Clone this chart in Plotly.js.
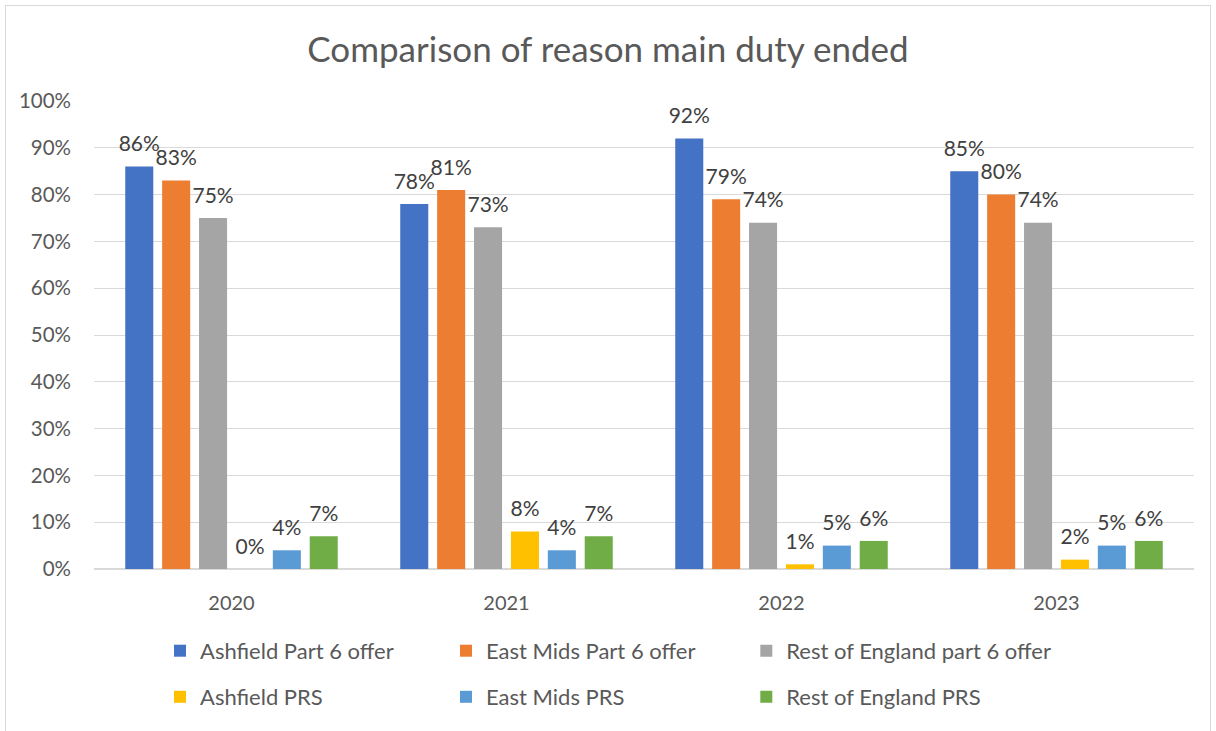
<!DOCTYPE html>
<html>
<head>
<meta charset="utf-8">
<script src="https://cdn.plot.ly/plotly-3.0.1.min.js"></script>
<style>
  body { margin: 0; background: #fff; }
  #graph { position: absolute; left: 0; top: 0; width: 1216px; height: 731px; }
  #frame { position: absolute; left: 5px; top: 5px; width: 1204px; height: 740px;
           border: 1px solid #d9d9d9; pointer-events: none; }
</style>
</head>
<body>
<div id="graph"></div>
<div id="frame"></div>
<script>
var years = ['2020', '2021', '2022', '2023'];

var ashfieldPart6 = [0.86, 0.78, 0.92, 0.85];
var eastMidsPart6 = [0.83, 0.81, 0.79, 0.80];
var restPart6 = [0.75, 0.73, 0.74, 0.74];
var ashfieldPRS = [0.00, 0.08, 0.01, 0.02];
var eastMidsPRS = [0.04, 0.04, 0.05, 0.05];
var restPRS = [0.07, 0.07, 0.06, 0.06];

var seriesNames = ['Ashfield Part 6 offer', 'East Mids Part 6 offer', 'Rest of England part 6 offer',
                   'Ashfield PRS', 'East Mids PRS', 'Rest of England PRS'];
var seriesValues = [ashfieldPart6, eastMidsPart6, restPart6, ashfieldPRS, eastMidsPRS, restPRS];
var seriesColors = ['#4472C4', '#ED7D31', '#A5A5A5', '#FFC000', '#5B9BD5', '#70AD47'];

var fontFam = 'Lato, "Open Sans", sans-serif';

// one legend per entry so each sits in its own column / row like the excel legend
var legendX = [0.06, 0.32, 0.593];
var legendY = [-0.175, -0.2735];

var data = [];
var layoutLegends = {};
for (let i = 0; i < seriesNames.length; i++) {
    var key = i == 0 ? 'legend' : 'legend' + (i + 1);
    data.push({
        type: 'bar',
        x: years,
        y: seriesValues[i],
        name: seriesNames[i],
        marker: {color: seriesColors[i]},
        // small textfont size keeps the blank second line short, it just lifts the label
        texttemplate: '<span style="font-size:21px">%{y:.0%}</span><br><span style="font-size:8px">\u00a0</span>',
        textposition: 'outside',
        constraintext: 'none',
        cliponaxis: false,
        textfont: {family: fontFam, size: 8, color: '#404040'},
        legend: key,
        hoverinfo: 'skip'
    });
    layoutLegends[key] = {
        orientation: 'h',
        xref: 'paper', yref: 'paper',
        x: legendX[i % 3], xanchor: 'left',
        y: legendY[Math.floor(i / 3)], yanchor: 'middle',
        font: {family: fontFam, size: 22, color: '#595959'},
        bgcolor: 'rgba(0,0,0,0)'
    };
}

var layout = {
    width: 1216,
    height: 731,
    margin: {l: 94, r: 22, t: 101, b: 162},
    paper_bgcolor: '#fff',
    plot_bgcolor: '#fff',
    font: {family: fontFam, color: '#595959'},
    title: {
        text: 'Comparison of reason main duty ended',
        font: {family: fontFam, size: 35, color: '#595959'},
        x: 0.5, xanchor: 'center',
        y: 0.932, yanchor: 'middle'
    },
    barmode: 'group',
    bargap: 0.195,
    bargroupgap: 0.24,
    xaxis: {
        type: 'category',
        showline: false,
        showgrid: false,
        ticks: '',
        tickfont: {family: fontFam, size: 20, color: '#595959'},
        ticklabelstandoff: 20
    },
    yaxis: {
        range: [0, 1],
        dtick: 0.1,
        tickformat: '.0%',
        showgrid: true,
        gridcolor: '#d9d9d9',
        gridwidth: 1,
        zeroline: true,
        zerolinecolor: '#d9d9d9',
        zerolinewidth: 2,
        showline: false,
        ticks: '',
        tickfont: {family: fontFam, size: 20.5, color: '#595959'},
        ticklabelstandoff: 22
    },
    showlegend: true
};
Object.assign(layout, layoutLegends);

Plotly.newPlot('graph', data, layout, {displayModeBar: false, staticPlot: true});
</script>
</body>
</html>
